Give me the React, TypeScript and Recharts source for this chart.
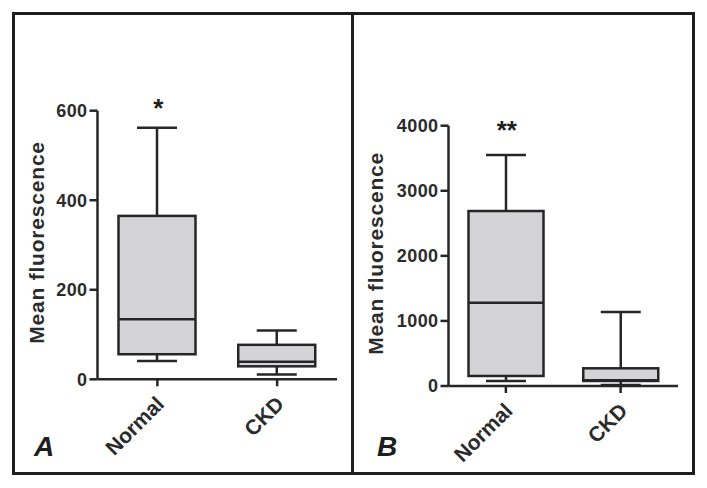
import React from 'react';
import { ComposedChart, Bar, XAxis, YAxis, ReferenceDot } from 'recharts';

const FONT = '"Liberation Sans", Arial, Helvetica, sans-serif';
const INK = '#262626';
const BOX_FILL = '#d4d4d6';

const groups = ['Normal', 'CKD'];

// Panel A (box-and-whisker values)
const aMin = [41, 11];
const aQ1 = [56, 29];
const aMedian = [134, 39];
const aQ3 = [365, 77];
const aMax = [562, 109];
const aTicks = [0, 200, 400, 600];
const aMarkLevel = 617;

// Panel B
const bMin = [77, 15];
const bQ1 = [154, 77];
const bMedian = [1280, 90];
const bQ3 = [2689, 272];
const bMax = [3550, 1137];
const bTicks = [0, 1000, 2000, 3000, 4000];
const bMarkLevel = 4005;

const buildRows = (mins: number[], q1s: number[], meds: number[], q3s: number[], maxs: number[]) =>
  groups.map((group, i) => ({
    group,
    min: mins[i],
    q1: q1s[i],
    median: meds[i],
    q3: q3s[i],
    max: maxs[i],
  }));

const rowsA = buildRows(aMin, aQ1, aMedian, aQ3, aMax);
const rowsB = buildRows(bMin, bQ1, bMedian, bQ3, bMax);

// draws box, median and whiskers inside the [min, max] range bar rect
const BoxShape = (props: any) => {
  const { x, y, width, height, payload } = props;
  const { min, q1, median, q3, max } = payload;
  const top = Math.min(y, y + height);
  const bottom = Math.max(y, y + height);
  const py = (v: number) => bottom - ((bottom - top) * (v - min)) / (max - min);
  const cx = x + width / 2;
  const cap = 20;
  return (
    <g stroke={INK} strokeWidth={2.5} fill="none">
      <line x1={cx} x2={cx} y1={py(max)} y2={py(q3)} />
      <line x1={cx} x2={cx} y1={py(q1)} y2={py(min)} />
      <line x1={cx - cap} x2={cx + cap} y1={py(max)} y2={py(max)} />
      <line x1={cx - cap} x2={cx + cap} y1={py(min)} y2={py(min)} />
      <rect x={x} y={py(q3)} width={width} height={py(q1) - py(q3)} fill={BOX_FILL} />
      <line x1={x} x2={x + width} y1={py(median)} y2={py(median)} />
    </g>
  );
};

const CategoryTick = (props: any) => {
  const { x, y, payload } = props;
  return (
    <text
      transform={`translate(${x + 8}, ${y + 17}) rotate(-45)`}
      textAnchor="end"
      fontFamily={FONT}
      fontWeight={700}
      fontSize={21}
      fill="#2b2b2b"
    >
      {payload.value}
    </text>
  );
};

type PanelProps = {
  rows: typeof rowsA;
  ticks: number[];
  mark: string;
  markLevel: number;
  left: number;
  width: number;
  top: number;
  axisWidth: number;
  axisHeight: number;
  right: number;
  barSize: number;
  labelX: number;
  labelShift: number;
};

const Panel = ({ rows, ticks, mark, markLevel, left, width, top, axisWidth, axisHeight, right, barSize, labelX, labelShift }: PanelProps) => (
  <div style={{ position: 'absolute', left, top: 0 }}>
    <ComposedChart width={width} height={474} data={rows} margin={{ top, right, bottom: 0, left: 0 }}>
      <XAxis
        dataKey="group"
        height={axisHeight}
        axisLine={{ stroke: INK, strokeWidth: 2.5 }}
        tickLine={{ stroke: INK, strokeWidth: 2.5 }}
        tickSize={7}
        tick={<CategoryTick />}
        interval={0}
      />
      <YAxis
        width={axisWidth}
        domain={[ticks[0], ticks[ticks.length - 1]]}
        ticks={ticks}
        axisLine={{ stroke: INK, strokeWidth: 2.5 }}
        tickLine={{ stroke: INK, strokeWidth: 2.5 }}
        tickSize={8}
        tickMargin={2}
        tick={{ fill: '#2b2b2b', fontSize: 18, fontWeight: 700, fontFamily: FONT, letterSpacing: 0.4 }}
        label={{
          content: ({ viewBox }: any) => {
            const cy = viewBox.y + viewBox.height / 2 + labelShift;
            return (
              <text
                x={labelX}
                y={cy}
                transform={`rotate(-90, ${labelX}, ${cy})`}
                textAnchor="middle"
                fontFamily={FONT}
                fontWeight={700}
                fontSize={21}
                letterSpacing={0.8}
                fill="#2b2b2b"
              >
                Mean fluorescence
              </text>
            );
          },
        }}
      />
      <Bar
        dataKey={(d: any) => [d.min, d.max]}
        barSize={barSize}
        shape={<BoxShape />}
        isAnimationActive={false}
      />
      <ReferenceDot
        x={groups[0]}
        y={markLevel}
        r={0}
        ifOverflow="visible"
        stroke="none"
        label={{
          content: ({ viewBox }: any) => (
            <text
              x={viewBox.x + viewBox.width / 2 + 1}
              y={viewBox.y + viewBox.height / 2 + 14}
              textAnchor="middle"
              fontFamily={FONT}
              fontWeight={700}
              fontSize={26}
              fill="#1e1e1e"
            >
              {mark}
            </text>
          ),
        }}
      />
    </ComposedChart>
  </div>
);

export default function App() {
  return (
    <div style={{ position: 'absolute', left: 0, top: 0, width: 707, height: 488, background: '#fff', overflow: 'hidden' }}>
      <div
        style={{
          position: 'absolute',
          left: 12,
          top: 12,
          width: 683,
          height: 463,
          boxSizing: 'border-box',
          border: '3px solid #1e1e1e',
        }}
      />
      <div style={{ position: 'absolute', left: 351, top: 12, width: 3, height: 463, background: '#1e1e1e' }} />
      <Panel
        rows={rowsA}
        ticks={aTicks}
        mark="*"
        markLevel={aMarkLevel}
        left={0}
        width={352}
        top={110.7}
        axisWidth={97.5}
        axisHeight={94.7}
        right={15}
        barSize={77}
        labelX={43.5}
        labelShift={-2.5}
      />
      <Panel
        rows={rowsB}
        ticks={bTicks}
        mark="**"
        markLevel={bMarkLevel}
        left={352}
        width={342}
        top={125.7}
        axisWidth={96.5}
        axisHeight={88}
        right={16}
        barSize={75}
        labelX={31}
        labelShift={-2.5}
      />
      <svg width={707} height={488} style={{ position: 'absolute', left: 0, top: 0, pointerEvents: 'none' }}>
        <text x={34} y={456} fontFamily={FONT} fontWeight={700} fontStyle="italic" fontSize={28} fill="#1e1e1e">
          A
        </text>
        <text x={377} y={456} fontFamily={FONT} fontWeight={700} fontStyle="italic" fontSize={28} fill="#1e1e1e">
          B
        </text>
      </svg>
    </div>
  );
}
